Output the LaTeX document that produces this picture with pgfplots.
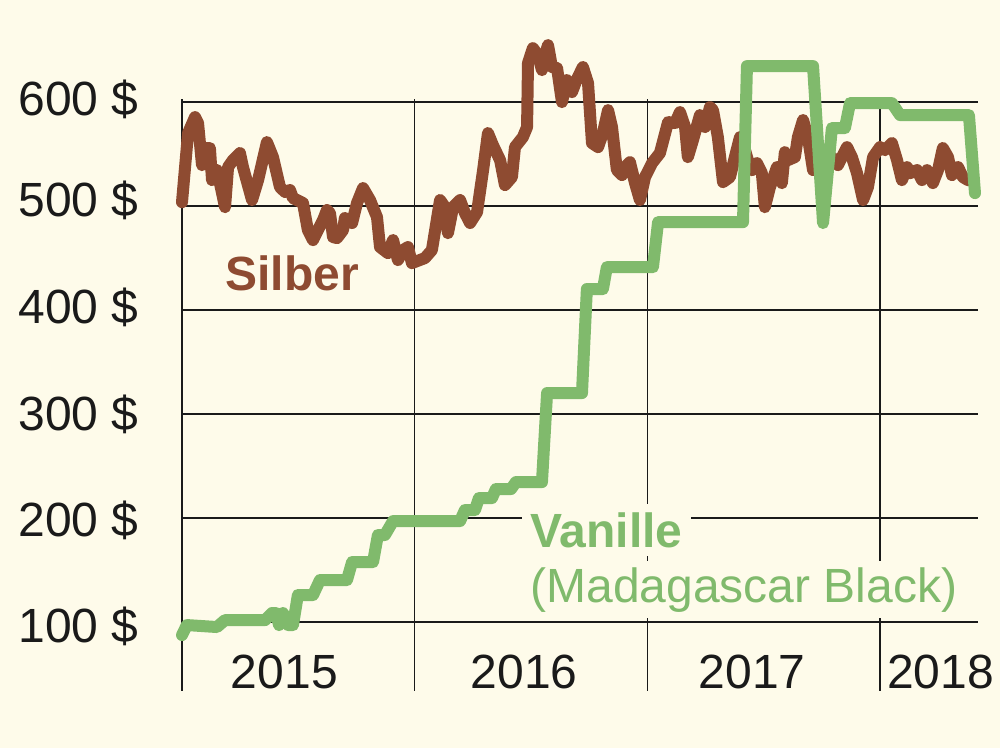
\documentclass[border=0pt]{standalone}
\usepackage{pgfplots}
\pgfplotsset{compat=1.18}
\usepackage{fontspec}
\setmainfont{Liberation Sans}

\definecolor{bg}{HTML}{FEFBEA}
\definecolor{silber}{HTML}{8E4B31}
\definecolor{vanille}{HTML}{80BA6C}
\definecolor{gridc}{HTML}{1A1A1A}

\begin{document}
\begin{tikzpicture}
\path[use as bounding box, fill=bg] (0,0) rectangle (500pt,374pt);
\begin{axis}[
  at={(91pt,28.5pt)}, anchor=south west,
  scale only axis, width=398pt, height=296pt,
  xmin=2015, xmax=2018.421, ymin=33.7, ymax=603,
  axis line style={draw=none},
  tick style={draw=none},
  xtick={2015.44,2016.47,2017.45,2018.26},
  xticklabels={2015,2016,2017,2018},
  minor xtick={2015,2016,2017,2018},
  ytick={96.2,198.1,300,402.4,505.3,603},
  yticklabels={100 \$,200 \$,300 \$,400 \$,500 \$,600 \$},
  minor ytick={100,200,300,400,500,600},
  xminorgrids, yminorgrids,
  minor grid style={gridc, line width=0.65pt},
  tick label style={font=\fontsize{24}{28}\selectfont, text=gridc},
  xticklabel style={anchor=center, yshift=9.5pt},
  yticklabel style={anchor=east, inner sep=0pt, xshift=-21.5pt},
  clip=false,
]
% Silberpreis
\addplot[silber, line width=6pt, line join=round, line cap=round] coordinates {
(2015.000,503.8) (2015.026,570.2) (2015.056,585.6) (2015.069,579.8) (2015.086,539.4)
(2015.099,555.8) (2015.120,555.8) (2015.129,525.0) (2015.150,534.6) (2015.163,522.1)
(2015.185,499.0) (2015.198,537.5) (2015.219,544.2) (2015.249,551.0) (2015.262,537.5)
(2015.301,505.8) (2015.327,525.0) (2015.365,561.5) (2015.391,547.1) (2015.421,518.3)
(2015.443,513.5) (2015.464,515.4) (2015.477,507.7) (2015.520,502.9) (2015.541,476.9)
(2015.563,467.3) (2015.584,476.9) (2015.606,486.5) (2015.623,496.2) (2015.636,493.3)
(2015.649,470.2) (2015.666,469.2) (2015.692,476.9) (2015.700,488.5) (2015.731,483.7)
(2015.752,502.9) (2015.778,517.3) (2015.808,505.8) (2015.838,489.4) (2015.851,460.6)
(2015.885,454.8) (2015.907,467.3) (2015.928,448.1) (2015.950,457.7) (2015.971,460.6)
(2015.988,445.2) (2016.044,450.0) (2016.074,457.7) (2016.109,505.8) (2016.130,499.0)
(2016.143,474.0) (2016.165,499.0) (2016.195,505.8) (2016.216,493.3) (2016.238,483.7)
(2016.268,494.2) (2016.294,534.6) (2016.315,570.2) (2016.336,558.7) (2016.367,544.2)
(2016.388,520.2) (2016.418,527.9) (2016.431,556.7) (2016.465,566.3) (2016.483,576.0)
(2016.487,637.5) (2016.508,651.9) (2016.530,645.2) (2016.547,630.8) (2016.560,645.2)
(2016.573,654.8) (2016.590,633.7) (2016.612,632.7) (2016.633,600.0) (2016.654,621.2)
(2016.676,609.6) (2016.697,622.0) (2016.723,633.7) (2016.745,618.3) (2016.762,560.6)
(2016.788,556.7) (2016.809,570.2) (2016.831,592.3) (2016.848,576.0) (2016.869,534.6)
(2016.891,529.8) (2016.904,537.5) (2016.925,542.3) (2016.947,522.1) (2016.968,505.8)
(2016.990,527.9) (2017.020,541.3) (2017.054,551.0) (2017.089,580.8) (2017.119,579.8)
(2017.140,590.4) (2017.162,576.0) (2017.174,547.1) (2017.196,563.5) (2017.226,587.5)
(2017.248,576.0) (2017.269,595.2) (2017.282,592.3) (2017.303,566.3) (2017.325,523.1)
(2017.355,527.9) (2017.376,547.1) (2017.398,566.3) (2017.411,560.6) (2017.432,544.2)
(2017.450,534.6) (2017.471,541.3) (2017.492,531.7) (2017.505,499.0) (2017.527,518.3)
(2017.557,537.5) (2017.578,522.1) (2017.591,551.9) (2017.604,544.2) (2017.634,547.1)
(2017.647,566.3) (2017.669,582.7) (2017.690,566.3) (2017.712,534.6) (2017.742,544.2)
(2017.793,547.1) (2017.819,539.4) (2017.858,556.7) (2017.879,547.1) (2017.901,531.7)
(2017.927,505.8) (2017.948,518.3) (2017.970,547.1) (2018.000,556.7) (2018.021,553.8)
(2018.051,560.6) (2018.073,544.2) (2018.094,525.0) (2018.116,537.5) (2018.129,531.7)
(2018.159,534.6) (2018.180,525.0) (2018.202,534.6) (2018.227,522.1) (2018.249,534.6)
(2018.270,555.8) (2018.292,547.1) (2018.309,529.8) (2018.335,537.5) (2018.356,527.9)
(2018.378,525.0)
};
% Vanillepreis
\addplot[vanille, line width=6pt, line join=round, line cap=round] coordinates {
(2015.000,87.5) (2015.021,97.1) (2015.150,95.2) (2015.185,101.9) (2015.357,101.9)
(2015.387,108.7) (2015.404,108.7) (2015.417,97.1) (2015.434,108.7) (2015.456,97.1)
(2015.477,97.1) (2015.498,126.0) (2015.563,126.0) (2015.593,140.4) (2015.709,140.4)
(2015.731,157.7) (2015.821,157.7) (2015.842,183.7) (2015.872,183.7) (2015.907,197.1)
(2016.195,197.1) (2016.216,207.7) (2016.259,207.7) (2016.276,219.2) (2016.332,219.2)
(2016.349,227.9) (2016.414,227.9) (2016.435,234.6) (2016.547,234.6) (2016.569,320.2)
(2016.719,320.2) (2016.740,420.2) (2016.809,420.2) (2016.826,441.3) (2017.024,441.3)
(2017.046,484.6) (2017.411,484.6) (2017.428,634.6) (2017.712,634.6) (2017.755,483.7)
(2017.793,575.0) (2017.849,575.0) (2017.871,599.0) (2018.051,599.0) (2018.086,587.5)
(2018.382,587.5) (2018.408,512.5)
};
\node[anchor=base west, inner sep=0pt, text=silber, font=\fontsize{24}{28}\selectfont\bfseries]
  at (axis cs:2015.185,419.2) {Silber};
\node[anchor=base west, inner sep=4pt, xshift=-4pt, fill=bg, text=vanille, font=\fontsize{24}{28}\selectfont\bfseries]
  at (axis cs:2016.496,172.1) {Vanille};
\node[anchor=base west, inner sep=3pt, xshift=-3pt, fill=bg, text=vanille, font=\fontsize{24}{28}\selectfont]
  at (axis cs:2016.496,119.2) {(Madagascar Black)};
\end{axis}
\end{tikzpicture}
\end{document}
